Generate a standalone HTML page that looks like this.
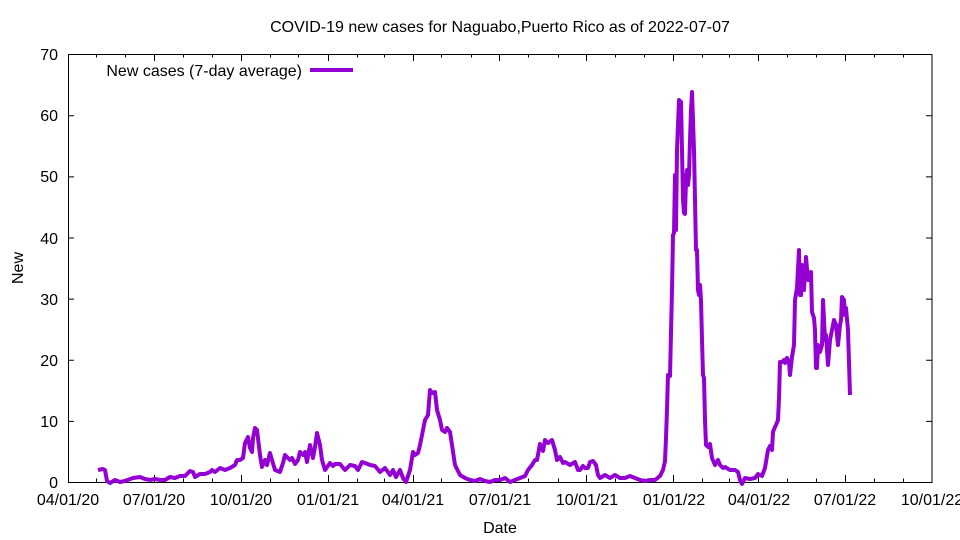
<!DOCTYPE html>
<html><head><meta charset="utf-8"><style>
body{margin:0;background:#fff}
svg{display:block;font-family:"Liberation Sans",sans-serif;font-size:16px}
</style></head><body>
<svg width="960" height="540" viewBox="0 0 960 540">
<rect x="0" y="0" width="960" height="540" fill="#fff"/>
<text x="500" y="32" text-anchor="middle">COVID-19 new cases for Naguabo,Puerto Rico as of 2022-07-07</text>
<g stroke="#000" stroke-width="1" fill="none">
<rect x="68.5" y="54.5" width="863.5" height="428"/>
<path d="M68 421.4h6M68 360.3h6M68 299.1h6M68 238h6M68 176.9h6M68 115.7h6M932 421.4h-6M932 360.3h-6M932 299.1h-6M932 238h-6M932 176.9h-6M932 115.7h-6"/>
<path d="M154.5 482v-7M241.5 482v-7M328.5 482v-7M413.5 482v-7M499.5 482v-7M586.5 482v-7M673.5 482v-7M758.5 482v-7M845.5 482v-7M154.5 54v7M241.5 54v7M328.5 54v7M413.5 54v7M499.5 54v7M586.5 54v7M673.5 54v7M758.5 54v7M845.5 54v7"/>
<path d="M96.5 482v-3.5M125.5 482v-3.5M183.5 482v-3.5M212.5 482v-3.5M270.5 482v-3.5M298.5 482v-3.5M357.5 482v-3.5M384.5 482v-3.5M441.5 482v-3.5M471.5 482v-3.5M528.5 482v-3.5M558.5 482v-3.5M615.5 482v-3.5M644.5 482v-3.5M702.5 482v-3.5M729.5 482v-3.5M787.5 482v-3.5M816.5 482v-3.5M874.5 482v-3.5M903.5 482v-3.5"/>
<path d="M96.5 54v3.5M125.5 54v3.5M183.5 54v3.5M212.5 54v3.5M270.5 54v3.5M298.5 54v3.5M357.5 54v3.5M384.5 54v3.5M441.5 54v3.5M471.5 54v3.5M528.5 54v3.5M558.5 54v3.5M615.5 54v3.5M644.5 54v3.5M702.5 54v3.5M729.5 54v3.5M787.5 54v3.5M816.5 54v3.5M874.5 54v3.5M903.5 54v3.5"/>
</g>
<g text-anchor="end">
<text x="58" y="488">0</text><text x="58" y="427">10</text><text x="58" y="366">20</text><text x="58" y="305">30</text><text x="58" y="244">40</text><text x="58" y="182">50</text><text x="58" y="121">60</text><text x="58" y="60">70</text>
</g>
<g text-anchor="middle">
<text x="68" y="505">04/01/20</text><text x="154" y="505">07/01/20</text><text x="241" y="505">10/01/20</text><text x="328" y="505">01/01/21</text><text x="413" y="505">04/01/21</text><text x="500" y="505">07/01/21</text><text x="587" y="505">10/01/21</text><text x="674" y="505">01/01/22</text><text x="759" y="505">04/01/22</text><text x="845" y="505">07/01/22</text><text x="932" y="505">10/01/22</text>
<text x="500" y="533">Date</text>
</g>
<text transform="translate(23,268) rotate(-90)" text-anchor="middle">New</text>
<text x="302" y="76" text-anchor="end">New cases (7-day average)</text>
<line x1="310" y1="70" x2="353" y2="70" stroke="#9400d3" stroke-width="4"/>
<polyline fill="none" stroke="#9400d3" stroke-width="4" stroke-linejoin="round" points="98,470 103,469 105,470 107,481 110,483 115,480 120,482 125,481 133,478 140,477 145,479 150,480 155,479 160,480 165,480 170,477 175,478 180,476 185,476 190,471 193,472 195,477 200,474 205,474 210,472 212,470 215,472 220,468 225,470 230,468 235,465 237,460 240,460 243,458 245,443 248,437 250,448 252,452 253,438 255,428 257,430 260,455 262,467 265,460 267,465 270,453 272,460 275,470 280,472 283,463 285,455 290,460 292,458 295,464 298,460 300,452 303,455 305,452 307,462 310,445 313,458 315,447 317,433 320,445 322,460 325,470 330,463 333,466 335,464 340,464 345,470 350,465 355,466 358,470 362,462 365,463 370,465 375,466 380,472 385,468 390,475 393,470 396,477 400,470 403,478 406,482 410,470 413,452 415,455 418,453 420,445 423,430 425,420 428,415 430,390 432,393 435,392 437,410 440,420 442,430 445,432 447,428 450,432 452,445 455,465 460,475 465,478 470,480 475,481 480,479 485,481 490,482 495,480 500,480 505,478 510,482 515,480 520,478 525,476 528,470 532,465 535,460 537,460 540,444 543,451 545,440 548,443 552,440 555,450 557,460 560,457 563,463 565,462 570,465 575,462 578,470 580,470 583,466 585,468 588,468 590,462 593,461 596,465 598,475 600,478 605,475 610,478 615,475 620,478 625,478 630,476 635,478 640,480 645,481 650,480 655,480 660,476 663,470 665,461 666,438 667,409 668,375 670,376 672,290 673,235 674,233 675,175 676,230 677,150 679,100 681,102 682,150 683,200 684,213 685,214 686,180 687,170 688,185 689,175 690,140 691,110 692,92 693,120 694,150 695,200 696,250 697,250 698,290 699,295 700,285 701,300 702,340 703,375 704,378 705,420 706,445 708,447 710,444 712,458 715,465 718,460 720,465 723,468 725,467 730,470 735,470 738,472 740,480 742,484 745,478 750,479 755,478 758,474 762,476 765,468 768,450 770,446 772,450 773,432 775,427 776,425 778,420 779,398 780,362 782,362 784,360 785,363 787,358 789,362 790,375 792,357 794,345 795,300 797,288 799,250 800,295 801,295 802,265 804,290 806,257 808,280 810,280 811,272 812,312 814,318 815,330 816,368 817,368 818,345 820,352 822,345 823,300 825,340 826,335 828,365 830,340 832,330 834,320 836,325 838,345 840,325 841,320 842,297 844,300 845,315 846,308 848,330 850,395"/>
</svg>
</body></html>
